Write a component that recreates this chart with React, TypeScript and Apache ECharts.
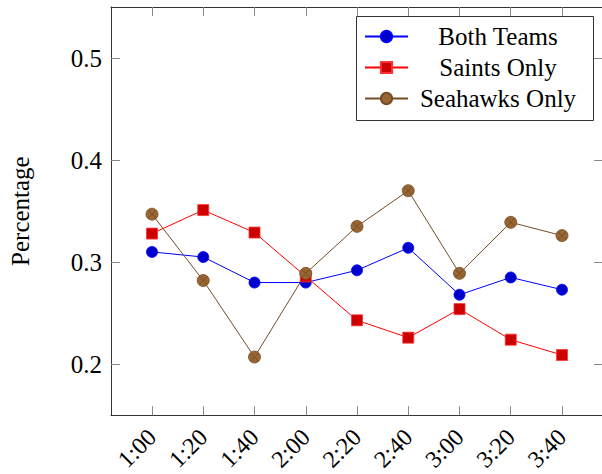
import React, { useEffect, useRef } from 'react';
import * as echarts from 'echarts';

const categories = ['1:00', '1:20', '1:40', '2:00', '2:20', '2:40', '3:00', '3:20', '3:40'];
const bothTeams = [0.31, 0.305, 0.28, 0.28, 0.292, 0.314, 0.268, 0.285, 0.273];
const saintsOnly = [0.328, 0.351, 0.329, 0.286, 0.243, 0.226, 0.254, 0.224, 0.209];
const seahawksOnly = [0.347, 0.282, 0.207, 0.289, 0.335, 0.37, 0.289, 0.339, 0.326];
const yTicks = [0.2, 0.3, 0.4, 0.5];
const seriesNames = ['Both Teams', 'Saints Only', 'Seahawks Only'];

const FONT = 'Liberation Serif';

export default function App() {
  const ref = useRef<HTMLDivElement>(null);
  useEffect(() => {
    if (!ref.current) return;
    const chart = echarts.init(ref.current, undefined, { renderer: 'svg' });
    const idx = categories.map((_, i) => i);
    const toPts = (arr: number[]) => arr.map((v, i) => [i, v]);
    const tickStyle = { show: true, inside: true, length: 9, lineStyle: { color: '#888', width: 1 } };
    const axisLine = { show: true, onZero: false, lineStyle: { color: '#333', width: 1 } };
    const option: any = {
      animation: false,
      textStyle: { fontFamily: FONT },
      grid: { left: 111, top: 7, right: 7, bottom: 57, containLabel: false },
      graphic: [
        {
          type: 'rect',
          z: 3,
          shape: { x: 356.5, y: 16.5, width: 237, height: 104 },
          style: { fill: '#fff', stroke: '#333', lineWidth: 1 },
          silent: true,
        },
      ],
      legend: {
        data: seriesNames,
        orient: 'vertical',
        left: 356,
        top: 16,
        z: 5,
        borderWidth: 0,
        padding: [8, 9, 10, 8],
        itemWidth: 43,
        itemHeight: 14,
        itemGap: 6,
        textStyle: {
          fontFamily: FONT,
          fontSize: 25,
          color: '#000',
          rich: { c: { width: 170, align: 'center', fontFamily: FONT, fontSize: 25, color: '#000' } },
        },
        formatter: (name: string) => `{c|${name}}`,
      },
      xAxis: [
        {
          type: 'value',
          min: -0.8,
          max: 8.8,
          axisLine,
          axisTick: { ...tickStyle, customValues: idx },
          splitLine: { show: false },
          axisLabel: {
            customValues: idx,
            rotate: 45,
            margin: 18,
            fontFamily: FONT,
            fontSize: 24,
            color: '#000',
            formatter: (v: number) => categories[Math.round(v)] ?? '',
          },
        },
        {
          type: 'value',
          position: 'top',
          min: -0.8,
          max: 8.8,
          axisLine,
          axisTick: { ...tickStyle, customValues: idx },
          axisLabel: { show: false, customValues: idx },
          splitLine: { show: false },
        },
      ],
      yAxis: [
        {
          type: 'value',
          position: 'left',
          min: 0.15,
          max: 0.55,
          name: 'Percentage',
          nameLocation: 'middle',
          nameGap: 78,
          nameTextStyle: { fontFamily: FONT, fontSize: 25, color: '#000' },
          axisLine,
          axisTick: { ...tickStyle, customValues: yTicks },
          splitLine: { show: false },
          axisLabel: {
            customValues: yTicks,
            margin: 9,
            fontFamily: FONT,
            fontSize: 25,
            color: '#000',
            formatter: (v: number) => v.toFixed(1),
          },
        },
        {
          type: 'value',
          position: 'right',
          min: 0.15,
          max: 0.55,
          axisLine,
          axisTick: { ...tickStyle, customValues: yTicks },
          axisLabel: { show: false, customValues: yTicks },
          splitLine: { show: false },
        },
      ],
      series: [
        {
          name: seriesNames[0],
          type: 'line',
          data: toPts(bothTeams),
          symbol: 'circle',
          symbolSize: 11,
          lineStyle: { color: '#0000ff', width: 1 },
          itemStyle: { color: '#0000cc', borderColor: '#0000ff', borderWidth: 0.8 },
        },
        {
          name: seriesNames[1],
          type: 'line',
          data: toPts(saintsOnly),
          symbol: 'rect',
          symbolSize: 11,
          lineStyle: { color: '#ff0000', width: 1 },
          itemStyle: { color: '#cc0000', borderColor: '#ff3333', borderWidth: 0.8 },
        },
        {
          name: seriesNames[2],
          type: 'line',
          data: toPts(seahawksOnly),
          symbol: 'circle',
          symbolSize: 12,
          lineStyle: { color: '#734d26', width: 1 },
          itemStyle: { color: '#996633', borderColor: '#734d26', borderWidth: 0.8 },
        },
        {
          name: 'seahawksMark',
          type: 'line',
          data: toPts(seahawksOnly),
          symbol: 'path://M0,0L10,10M10,0L0,10',
          symbolSize: 8,
          lineStyle: { opacity: 0, width: 0 },
          itemStyle: { color: 'rgba(0,0,0,0)', borderColor: '#734d26', borderWidth: 0.9 },
          silent: true,
        },
      ],
    };
    chart.setOption(option);
    return () => chart.dispose();
  }, []);
  return (
    <div style={{ position: 'fixed', left: 0, top: 0, width: 602, height: 474, overflow: 'hidden', background: '#fff' }}>
      <div ref={ref} style={{ width: 610, height: 474 }} />
    </div>
  );
}
